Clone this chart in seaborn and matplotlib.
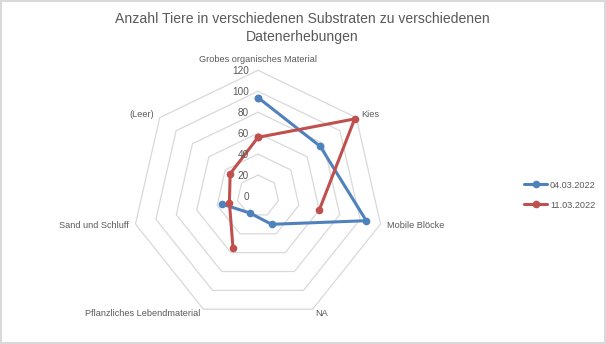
import numpy as np
import pandas as pd
import matplotlib
matplotlib.use("Agg")
import matplotlib.pyplot as plt
import seaborn as sns
from matplotlib.lines import Line2D

# ---- data ----
categories = ["Grobes organisches Material", "Kies", "Mobile Blöcke", "NA",
              "Pflanzliches Lebendmaterial", "Sand und Schluff", "(Leer)"]
series_names = ["04.03.2022", "11.03.2022"]
values_0403 = [94, 76, 106, 30, 18, 35, np.nan]
values_1103 = [56, 118, 60, np.nan, 55, 28, 34]
r_ticks = [0, 20, 40, 60, 80, 100, 120]
title = "Anzahl Tiere in verschiedenen Substraten zu verschiedenen\nDatenerhebungen"

colors = ["#4F81BD", "#C0504D"]
TXT = "#595959"
GRID = "#D9D9D9"

sns.set_theme(style="white")
plt.rcParams["font.family"] = ["Liberation Sans", "DejaVu Sans"]

n = len(categories)
theta = np.arange(n) * 2 * np.pi / n

# long table; split lines at missing values, close polygon
rows = []
for name, vals in zip(series_names, [values_0403, values_1103]):
    closed_t = list(theta) + [2 * np.pi]
    closed_v = list(vals) + [vals[0]]
    seg = 0
    for t, v in zip(closed_t, closed_v):
        if np.isnan(v):
            seg += 1
            continue
        rows.append(dict(series=name, theta=t, value=v, seg=f"{name}-{seg}"))
df = pd.DataFrame(rows)

W, H = 606, 344
fig = plt.figure(figsize=(W / 100, H / 100), dpi=100)
fig.patch.set_facecolor("white")
fig.patch.set_edgecolor(GRID)
fig.patch.set_linewidth(1.5)

cx, cy, R = 258, 196, 125.7
ax = fig.add_axes([(cx - R) / W, (H - cy - R) / H, 2 * R / W, 2 * R / H],
                  projection="polar")
ax.set_theta_zero_location("N")
ax.set_theta_direction(-1)
ax.set_ylim(0, max(r_ticks))
ax.grid(False)
ax.spines["polar"].set_visible(False)
ax.set_xticks([])
ax.set_yticks([])
ax.set_facecolor("none")

# heptagon gridlines
ring_t = list(theta) + [2 * np.pi]
for r in r_ticks[1:]:
    ax.plot(ring_t, [r] * len(ring_t), color=GRID, lw=0.9, zorder=0, clip_on=False)

sns.lineplot(data=df, x="theta", y="value", hue="series", units="seg",
             estimator=None, sort=False, palette=colors, marker="o",
             markersize=5.5, markeredgewidth=0, linewidth=2.2, ax=ax,
             legend=False, clip_on=False, zorder=3)
ax.set_xlabel("")
ax.set_ylabel("")

# radial tick labels
for r in r_ticks:
    ax.annotate(str(r), xy=(0, r), xytext=(-9, -1), textcoords="offset pixels",
                ha="right", va="center", fontsize=7.2, color=TXT)

# category labels
for t, cat in zip(theta, categories):
    s, c = np.sin(t), np.cos(t)
    if abs(s) < 0.1:
        ha, va, off = "center", "bottom", (0, 6)
    else:
        ha = "left" if s > 0 else "right"
        va = "center"
        off = (7 * s, 5 * c)
    ax.annotate(cat, xy=(t, max(r_ticks)), xytext=off, textcoords="offset pixels",
                ha=ha, va=va, fontsize=6.6, color=TXT)

fig.text(0.499, 1 - 28 / H, title, ha="center", va="center", fontsize=10.1,
         color=TXT, linespacing=1.42)

handles = [Line2D([0], [0], color=col, lw=2.2, marker="o", markersize=5.5,
                  markeredgewidth=0) for col in colors]
leg = fig.legend(handles, series_names, loc="center left",
                 bbox_to_anchor=(516 / W, 1 - 195 / H), frameon=False,
                 fontsize=6.6, handlelength=2.5, labelspacing=1.2,
                 handletextpad=0.3)
for txt in leg.get_texts():
    txt.set_color(TXT)

fig.savefig("out.png", dpi=100, facecolor="white", edgecolor=fig.get_edgecolor())
